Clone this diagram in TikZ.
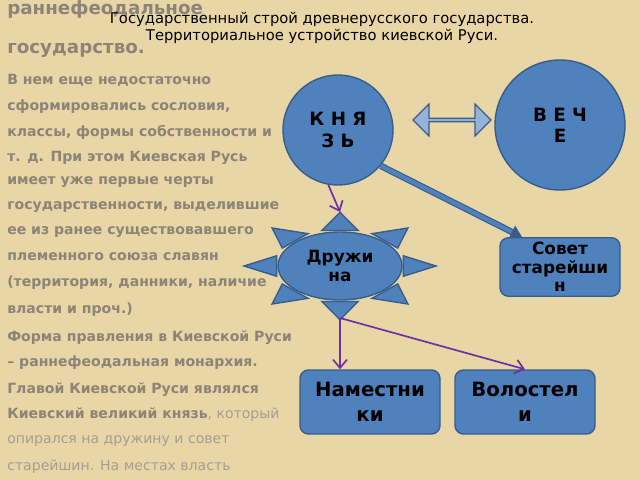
\documentclass[tikz,border=0pt]{standalone}
\usepackage{fontspec}
\setmainfont{DejaVu Sans}
\usetikzlibrary{arrows.meta,shapes.arrows,shapes.geometric}
\definecolor{parch}{RGB}{232,214,166}
\definecolor{shblue}{RGB}{79,129,189}
\definecolor{shline}{RGB}{56,93,138}
\definecolor{txtgrey}{RGB}{140,132,118}
\definecolor{lightgrey}{RGB}{165,158,145}
\definecolor{purp}{RGB}{112,48,160}
\tikzset{
  blueshape/.style={fill=shblue,draw=shline,line width=1pt},
  roundbox/.style={blueshape,rounded corners=6pt,align=center,font=\bfseries},
  leftline/.style={anchor=west,font=\bfseries\fontsize{10}{12}\selectfont,text=txtgrey,inner sep=0pt},
  purpline/.style={draw=purp,line width=1.2pt,-{Straight Barb[length=6pt,width=10pt]}}
}
\begin{document}
\begin{tikzpicture}[x=0.025cm,y=-0.025cm]
\fill[parch] (0,0) rectangle (640,480);
\useasboundingbox (0,0) rectangle (640,480);

%left text
\node[leftline,font=\bfseries\fontsize{13}{14}\selectfont] (h1) at (7,9) {раннефеодальное};
\node[leftline,font=\bfseries\fontsize{13}{14}\selectfont] (h2) at (7,50) {государство.};
\foreach \txt/\y [count=\i] in {В нем еще недостаточно/80,{сформировались сословия,}/107,{классы, формы собственности и}/132,т. д. При этом Киевская Русь/158,имеет уже первые черты/182,{государственности, выделившие}/207,ее из ранее существовавшего/232,племенного союза славян/257,{(территория, данники, наличие}/283,власти и проч.)/310,Форма правления в Киевской Руси/338,– раннефеодальная монархия./363,Главой Киевской Руси являлся/390}
  \node[leftline] (l\i) at (7,\y) {\txt};
\node[leftline] (l14) at (7,415) {Киевский великий князь\mdseries\color{lightgrey}, который};
\node[leftline,text=lightgrey,font=\fontsize{10}{12}\selectfont] (l15) at (7,441) {опирался на дружину и совет};
\node[leftline,text=lightgrey,font=\fontsize{10}{12}\selectfont] (l16) at (7,467) {старейшин. На местах власть};

%title
\node[align=center,font=\fontsize{10.5}{12}\selectfont,inner sep=1pt] (title) at (322,28)
  {Государственный строй древнерусского государства.\\Территориальное устройство киевской Руси.};

%knyaz and veche
\node[blueshape,circle,minimum size=110*0.025cm,align=center,font=\bfseries\fontsize{13}{15}\selectfont] (knyaz) at (338,130) {К Н Я\\З Ь};
\node[blueshape,ellipse,minimum width=130*0.025cm,minimum height=130*0.025cm,align=center,font=\bfseries\fontsize{13}{15}\selectfont] (veche) at (560,125) {В Е Ч\\Е};
\node[double arrow,fill=shblue!60!white,draw=shline,line width=1pt,minimum width=32*0.025cm,double arrow head extend=4pt,minimum height=78*0.025cm,inner sep=0pt] (link) at (452,120) {};

%druzhina sun
\begin{scope}[shift={(340,266)},yscale=0.56]
\foreach \a in {0,45,...,315}
  \fill[blueshape] (\a-16:66) -- (\a:96) -- (\a+16:66) -- cycle;
\end{scope}
\node[blueshape,ellipse,minimum width=124*0.025cm,minimum height=68*0.025cm,align=center,font=\bfseries\fontsize{12}{14}\selectfont] (druzh) at (340,266) {Дружи\\на};
\coordinate (sunbot) at (340,318);

%boxes
\node[roundbox,minimum width=120*0.025cm,minimum height=45*0.025cm,font=\bfseries\fontsize{12}{13}\selectfont] (sovet) at (560,267) {Совет\\старейши\\н};
\node[roundbox,minimum width=140*0.025cm,minimum height=64*0.025cm,font=\bfseries\fontsize{14}{18}\selectfont] (namest) at (370,402) {Наместни\\ки};
\node[roundbox,minimum width=140*0.025cm,minimum height=64*0.025cm,font=\bfseries\fontsize{14}{18}\selectfont] (volost) at (525,402) {Волостел\\и};

%connectors
\draw[draw=shline,fill=shblue,line width=0.8pt,double=shblue,double distance=3pt,-{Triangle[length=8pt,width=10pt]}] (knyaz.-40) -- (sovet.north west -| 522,245);
\draw[purpline] (knyaz.-100) -- (340,212);
\draw[purpline] (sunbot) -- (namest.north -| sunbot);
\draw[purpline] (sunbot) -- (volost.north);
\end{tikzpicture}
\end{document}
